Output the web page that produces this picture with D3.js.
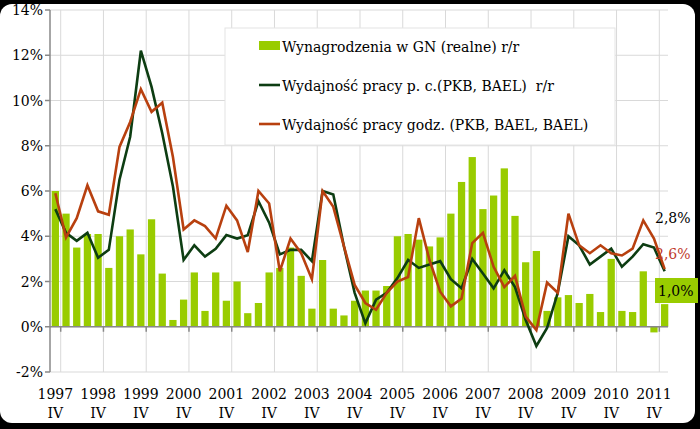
<!DOCTYPE html><html><head><meta charset="utf-8"><script src="https://cdn.jsdelivr.net/npm/d3@7"></script>
<style>body{margin:0;background:#000}text{white-space:pre}</style></head><body><svg id="c" width="700" height="429"></svg><script>
const years=["1997","1998","1999","2000","2001","2002","2003","2004","2005","2006","2007","2008","2009","2010","2011"];
const quarters=[];{let y=1997,q=4;for(let i=0;i<58;i++){quarters.push(y+"Q"+q);q++;if(q>4){q=1;y++;}}}
const wages=[6.0,5.0,3.5,4.1,4.1,2.6,4.0,4.3,3.2,4.75,2.35,0.3,1.2,2.4,0.7,2.4,1.15,2.0,0.6,1.05,2.4,2.6,3.5,2.25,0.8,2.95,0.8,0.5,1.15,1.6,1.6,1.8,4.0,4.1,3.85,3.55,3.95,5.0,6.4,7.5,5.2,5.8,7.0,4.9,2.85,3.35,0.7,1.3,1.4,1.05,1.45,0.65,3.0,0.7,0.65,2.45,-0.25,1.0];
const prodPerson=[5.2,4.15,3.8,4.15,3.05,3.4,6.5,8.4,12.2,10.6,8.55,6.2,2.95,3.6,3.1,3.45,4.05,3.9,4.05,5.55,4.6,3.2,3.4,3.4,2.9,6.0,5.85,3.55,1.5,0.15,1.2,1.5,2.15,2.95,2.6,2.75,2.9,2.1,1.7,3.0,2.35,1.7,2.5,1.75,0.3,-0.85,-0.05,1.5,4.0,3.6,2.75,3.1,3.45,2.65,3.1,3.65,3.5,2.45];
const prodHour=[5.9,3.95,4.8,6.25,5.1,4.95,7.95,9.05,10.5,9.5,9.9,7.5,4.3,4.7,4.45,3.9,5.35,4.7,3.3,6.0,5.45,2.45,3.9,3.25,2.1,6.0,5.3,3.55,1.85,1.05,0.75,1.5,2.0,2.2,4.8,2.95,1.55,0.9,1.25,3.7,4.15,2.65,1.75,2.25,0.45,-0.15,1.95,1.5,5.0,3.6,3.25,3.6,3.25,3.15,3.45,4.7,3.9,2.55];
const yTicks=[-2,0,2,4,6,8,10,12,14];
const seriesNames=["Wynagrodzenia w GN (realne) r/r","Wydajność pracy p. c.(PKB, BAEL)  r/r","Wydajność pracy godz. (PKB, BAEL, BAEL)"];
const endLabels=["2,8%","2,6%","1,0%"];
const F="'DejaVu Serif', serif";
const svg=d3.select("#c");
svg.append("rect").attr("x",0).attr("y",4).attr("width",695).attr("height",419).attr("rx",12).attr("fill","#fff");
const x=d3.scaleBand().domain(quarters).range([50,670]).paddingInner(0.32).paddingOuter(0.16);
const y=d3.scaleLinear().domain([-2,14]).range([372,10]);
const cx=d=>x(d)+x.bandwidth()/2;
const gx=d=>x(d)+x.step()-(x.step()-x.bandwidth())/2;
svg.append("g").selectAll("line").data(yTicks).join("line").attr("x1",50).attr("x2",668).attr("y1",d=>y(d)).attr("y2",d=>y(d)).attr("stroke","#d9d9d9");
const vg=quarters.filter(q=>q.endsWith("Q4"));
svg.append("g").selectAll("line").data(vg).join("line").attr("x1",gx).attr("x2",gx).attr("y1",10).attr("y2",372).attr("stroke","#d9d9d9");
svg.append("g").selectAll("rect").data(wages).join("rect").attr("x",(d,i)=>x(quarters[i])).attr("width",x.bandwidth()).attr("y",d=>y(Math.max(0,d))).attr("height",d=>Math.abs(y(d)-y(0))).attr("fill","#99cc00");
svg.append("line").attr("x1",50).attr("x2",50).attr("y1",10).attr("y2",372).attr("stroke","#888").attr("stroke-width",1.5);
svg.append("g").selectAll("line").data(yTicks).join("line").attr("x1",45).attr("x2",50).attr("y1",d=>y(d)).attr("y2",d=>y(d)).attr("stroke","#888").attr("stroke-width",1.5);
svg.append("line").attr("x1",50).attr("x2",668).attr("y1",y(0)).attr("y2",y(0)).attr("stroke","#888").attr("stroke-width",1.5);
svg.append("g").selectAll("line").data(vg).join("line").attr("x1",gx).attr("x2",gx).attr("y1",y(0)).attr("y2",y(0)+5).attr("stroke","#888").attr("stroke-width",1.5);
svg.append("g").selectAll("text").data(yTicks).join("text").attr("x",43).attr("y",d=>y(d)+5).attr("text-anchor","end").attr("font-family",F).attr("font-size",14).text(d=>d+"%");
const xl=svg.append("g").selectAll("text").data(years).join("text").attr("font-family",F).attr("font-size",14).attr("text-anchor","middle");
xl.append("tspan").attr("x",d=>cx(d+"Q4")).attr("y",399).text(d=>d);
xl.append("tspan").attr("x",d=>cx(d+"Q4")).attr("y",418).text("IV");
const line=d3.line().x((d,i)=>cx(quarters[i])).y(d=>y(d));
svg.append("path").datum(prodPerson).attr("d",line).attr("fill","none").attr("stroke","#0d3d12").attr("stroke-width",2.6);
svg.append("path").datum(prodHour).attr("d",line).attr("fill","none").attr("stroke","#b8400f").attr("stroke-width",2.6);
svg.append("rect").attr("x",225).attr("y",28).attr("width",390).attr("height",117).attr("fill","#fff").attr("stroke","#e4e4e4");
const lg=svg.append("g").selectAll("g").data(seriesNames).join("g").attr("transform",(d,i)=>`translate(259,${48+i*39})`);
lg.filter((d,i)=>i==0).append("rect").attr("x",0).attr("y",-7).attr("width",21).attr("height",9).attr("fill","#99cc00");
lg.filter((d,i)=>i>0).append("line").attr("x1",0).attr("x2",21).attr("y1",-2).attr("y2",-2).attr("stroke",(d,i)=>i==0?"#0d3d12":"#b8400f").attr("stroke-width",2.6);
lg.append("text").attr("x",23).attr("y",4).attr("font-family",F).attr("font-size",14).text(d=>d);
svg.append("text").attr("x",655).attr("y",223).attr("font-family",F).attr("font-size",14).text(endLabels[0]);
svg.append("text").attr("x",655).attr("y",259).attr("font-family",F).attr("font-size",14).attr("fill","#c0392b").text(endLabels[1]);
svg.append("rect").attr("x",655).attr("y",278).attr("width",43).attr("height",25).attr("fill","#99cc00");
svg.append("text").attr("x",658).attr("y",296).attr("font-family",F).attr("font-size",14).text(endLabels[2]);
</script></body></html>
